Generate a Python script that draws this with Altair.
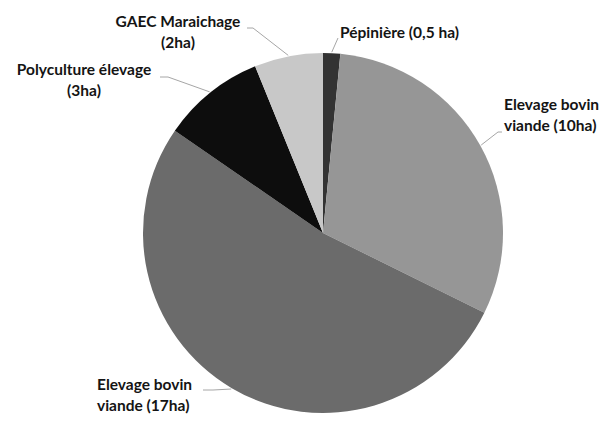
import math
import altair as alt
import pandas as pd

# ---- data ----
keys = ["pep", "bov10", "bov17", "poly", "gaec"]
labels = ["Pépinière (0,5 ha)", "Elevage bovin\nviande (10ha)", "Elevage bovin\nviande (17ha)",
          "Polyculture élevage\n(3ha)", "GAEC Maraichage\n(2ha)"]
areas = [0.5, 10, 17, 3, 2]

# ---- style / layout ----
colors = ["#333333", "#969696", "#6b6b6b", "#0d0d0d", "#c8c8c8"]
W, H = 599, 408
CX, CY, R = 315, 225, 180
label_x = [332, 496, 89, 76, 170]
label_y = [25, 97, 377, 62, 14]
label_align = ["left", "left", "left", "center", "center"]
# elbow points of leader lines (after the pie-edge point)
elbows = [
    [(330, 30)],
    [(490, 124), (494, 124)],
    [(205, 382), (195, 382)],
    [(160, 69), (152, 69)],
    [(245, 20), (239, 20)],
]

order = list(range(len(keys)))
df = pd.DataFrame({"key": keys, "label": labels, "area": areas, "ord": order})

# mid-angle of each slice -> point on the pie edge
total = sum(areas)
rows = []
cum = 0.0
for i, k in enumerate(keys):
    mid = (cum + areas[i] / 2) / total * 2 * math.pi
    cum += areas[i]
    pts = [(CX + (R + 1) * math.sin(mid), CY - (R + 1) * math.cos(mid))] + elbows[i]
    for j, (px, py) in enumerate(pts):
        rows.append({"key": k, "seq": j, "px": px, "py": py})
lines_df = pd.DataFrame(rows)

lab_df = pd.DataFrame({"key": keys, "label": labels, "px": label_x, "py": label_y,
                       "align": label_align})

pie = alt.Chart(df).mark_arc(radius=R, stroke=None).encode(
    theta=alt.Theta("area:Q", stack=True),
    order=alt.Order("ord:Q"),
    color=alt.Color("key:N", scale=alt.Scale(domain=keys, range=colors), legend=None),
    x=alt.value(CX),
    y=alt.value(CY),
)

leaders = alt.Chart(lines_df).mark_line(color="#a6a6a6", strokeWidth=1).encode(
    x=alt.X("px:Q", scale=None),
    y=alt.Y("py:Q", scale=None),
    detail="key:N",
    order="seq:Q",
)

def text_layer(al):
    return alt.Chart(lab_df).transform_filter(alt.datum.align == al).mark_text(
        align=al, baseline="middle", lineBreak="\n", lineHeight=20.5,
        font="Lato", fontWeight="bold", fontSize=15.5, color="#141414",
    ).encode(
        x=alt.X("px:Q", scale=None),
        y=alt.Y("py:Q", scale=None),
        text="label:N",
    )

chart = alt.layer(pie, leaders, text_layer("left"), text_layer("center")).properties(
    width=W, height=H, padding=0, autosize=alt.AutoSizeParams(type="none")
).configure_view(stroke=None)

chart.save("out.html", embed_options={"renderer": "svg", "actions": False})
